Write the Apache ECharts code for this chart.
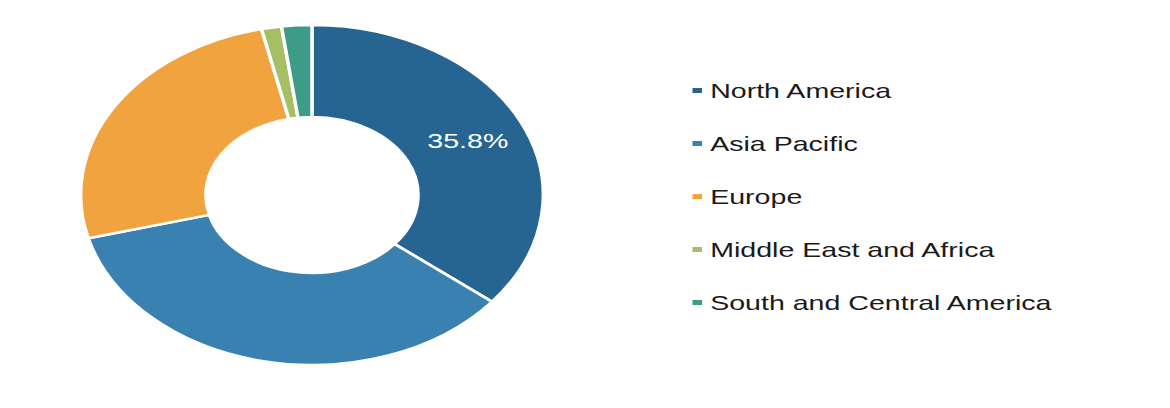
<!DOCTYPE html>
<html>
<head>
<meta charset="utf-8">
<script src="https://cdn.jsdelivr.net/npm/echarts@6/dist/echarts.min.js"></script>
<style>
html,body{margin:0;padding:0;background:#fff;overflow:hidden;width:1170px;height:408px;}
#wrap{width:1170px;height:408px;overflow:hidden;}
#chart{width:860px;height:408px;transform:scaleX(1.3605);transform-origin:0 0;}
</style>
</head>
<body>
<div id="wrap"><div id="chart"></div></div>
<script>
const categories = ['North America', 'Asia Pacific', 'Europe', 'Middle East and Africa', 'South and Central America'];
const values = [35.8, 35.1, 25.6, 1.4, 2.1];
const colors = ['#266591', '#3981b1', '#f0a33f', '#a6bf65', '#3d9c88'];
const labeledIndex = 0;

const chart = echarts.init(document.getElementById('chart'), null, {renderer: 'svg'});
const font = '"Liberation Sans", Arial, Helvetica, sans-serif';
chart.setOption({
  animation: false,
  color: colors,
  legend: {
    orient: 'vertical',
    left: 502,
    top: 75,
    itemWidth: 9,
    itemHeight: 7,
    itemGap: 32,
    icon: 'rect',
    data: categories,
    textStyle: {fontFamily: font, fontSize: 21, color: '#1a1a1a', lineHeight: 21, padding: [0, 0, 0, 0]},
    selectedMode: false
  },
  series: [{
    type: 'pie',
    center: [229.3, 195],
    radius: [78, 170],
    startAngle: 90,
    clockwise: true,
    avoidLabelOverlap: false,
    itemStyle: {borderColor: '#ffffff', borderWidth: 2.5},
    label: {show: false},
    labelLine: {show: false},
    emphasis: {disabled: true},
    data: categories.map((name, i) => ({
      name: name,
      value: values[i],
      label: i === labeledIndex ? {
        show: true,
        position: 'inside',
        formatter: '{c}%',
        color: '#ffffff',
        fontFamily: font,
        fontSize: 21
      } : {show: false}
    }))
  }]
});
</script>
</body>
</html>
